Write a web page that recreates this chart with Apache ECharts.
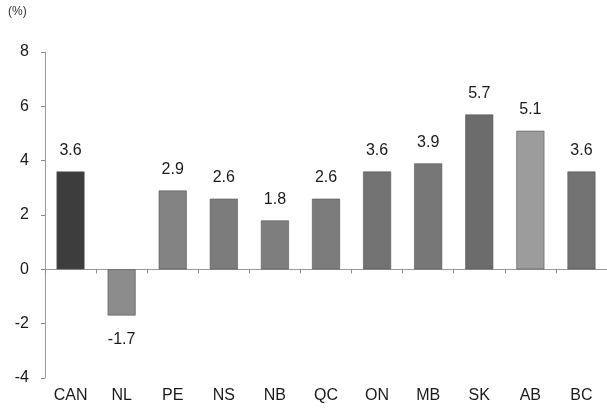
<!DOCTYPE html>
<html>
<head>
<meta charset="utf-8">
<script src="https://cdn.jsdelivr.net/npm/echarts@6/dist/echarts.min.js"></script>
<style>
  html, body { margin: 0; padding: 0; background: #fff; }
  #chart { width: 607px; height: 410px; }
</style>
</head>
<body>
<div id="chart"></div>
<script>
// Provinces and the national figure, in percent
const categories = ['CAN', 'NL', 'PE', 'NS', 'NB', 'QC', 'ON', 'MB', 'SK', 'AB', 'BC'];
const values = [3.6, -1.7, 2.9, 2.6, 1.8, 2.6, 3.6, 3.9, 5.7, 5.1, 3.6];
const yTicks = { min: -4, max: 8, interval: 2 };

// Fill shade for each bar (national bar darker)
const barShades = ['#3d3d3d', '#8c8c8c', '#838383', '#7c7c7c', '#7e7e7e', '#7b7b7b',
                   '#727272', '#777777', '#6c6c6c', '#9c9c9c', '#727272'];

const chart = echarts.init(document.getElementById('chart'), null, { renderer: 'canvas' });

const font = 'Liberation Sans, Arial, sans-serif';

chart.setOption({
  animation: false,
  backgroundColor: '#ffffff',
  grid: { left: 45, right: -2, top: 52, bottom: 32, containLabel: false },
  graphic: [{
    type: 'text', left: 8, top: 6,
    style: { text: '(%)', font: '12px ' + font, fill: '#333' }
  }],
  xAxis: {
    type: 'category',
    data: categories,
    axisLine: { onZero: true, lineStyle: { color: '#9a9a9a', width: 1 } },
    axisTick: { show: true, alignWithLabel: false, length: 4, lineStyle: { color: '#888' } },
    axisLabel: {
      show: true, color: '#1a1a1a', fontFamily: font, fontSize: 16,
      interval: 0, margin: 10
    },
    position: 'bottom'
  },
  yAxis: {
    type: 'value',
    min: yTicks.min, max: yTicks.max, interval: yTicks.interval,
    axisLine: { show: true, lineStyle: { color: '#9a9a9a', width: 1 } },
    axisTick: { show: true, length: 4, lineStyle: { color: '#888' } },
    axisLabel: { color: '#1a1a1a', fontFamily: font, fontSize: 16, margin: 16 },
    splitLine: { show: false }
  },
  series: [{
    type: 'bar',
    barWidth: 28,
    data: values.map(function (v, i) {
      return {
        value: v,
        itemStyle: { color: barShades[i], borderColor: '#555', borderWidth: 0.6 },
        label: {
          show: true,
          position: v < 0 ? 'bottom' : 'top',
          distance: v < 0 ? 16 : 13,
          color: '#1a1a1a', fontFamily: font, fontSize: 16,
          formatter: function (p) { return p.value.toFixed(1); }
        }
      };
    })
  }]
});
</script>
</body>
</html>
